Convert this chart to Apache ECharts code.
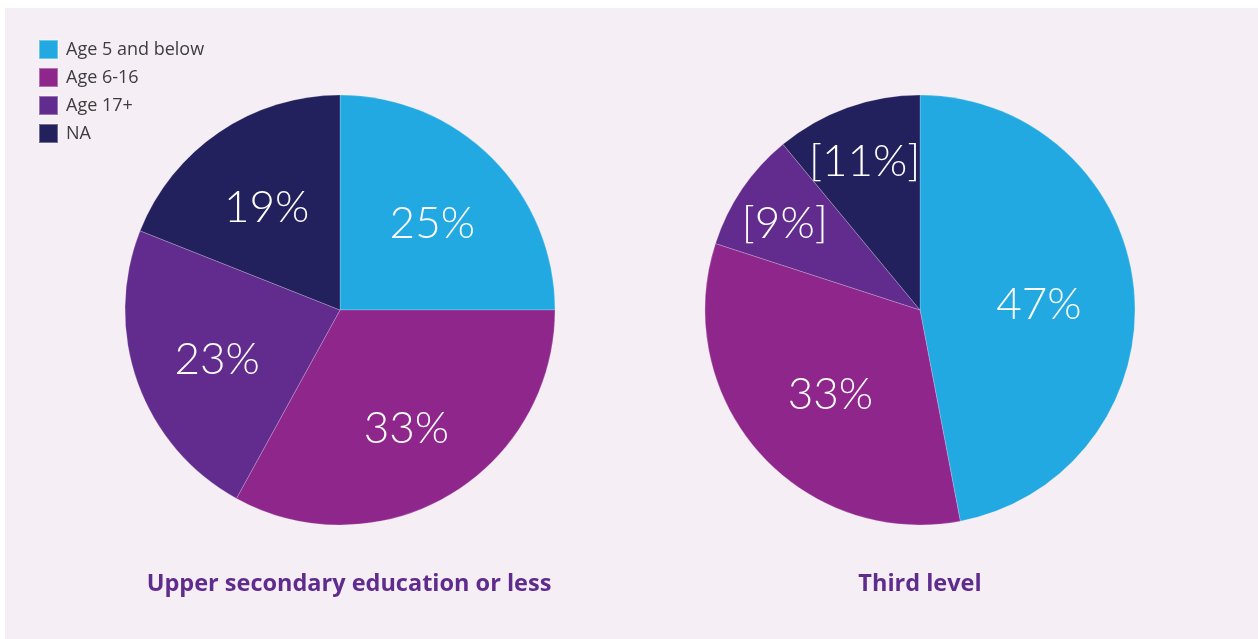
<!DOCTYPE html>
<html>
<head>
<meta charset="utf-8">
<script src="https://cdn.jsdelivr.net/npm/echarts@6/dist/echarts.min.js"></script>
<style>
  html, body { margin: 0; padding: 0; background: #ffffff; }
  #chart { width: 1258px; height: 639px; }
</style>
</head>
<body>
<div id="chart"></div>
<script>
// Age groups and their shares (%) per education level
const categories = ['Age 5 and below', 'Age 6-16', 'Age 17+', 'NA'];
const upperSecondary = [25, 33, 23, 19];
const thirdLevel = [47, 33, 9, 11];
// Shares shown in brackets (small sample)
const upperSecondaryBracketed = [false, false, false, false];
const thirdLevelBracketed = [false, false, true, true];
const panelTitles = ['Upper secondary education or less', 'Third level'];

const colors = ['#23A9E1', '#8E268C', '#622C8E', '#23205E'];
const labelFont = 'Lato, "Open Sans", sans-serif';
const textFont = '"Open Sans", Lato, sans-serif';
const R = 215;

function toData(values) {
  return values.map((v, i) => ({ name: categories[i], value: v, itemStyle: { color: colors[i] } }));
}

// transparent twin pie that carries value labels; labels sit halfway between r0 and R
function labelPie(values, center, r0, bracketed, showWhen) {
  return {
    type: 'pie',
    center: center,
    radius: [r0, R],
    startAngle: 90,
    clockwise: true,
    animation: false,
    silent: true,
    labelLine: { show: false },
    emphasis: { disabled: true },
    data: values.map((v, i) => ({
      name: categories[i],
      value: v,
      itemStyle: { color: 'rgba(0,0,0,0)' },
      label: { show: bracketed[i] === showWhen }
    })),
    label: {
      position: 'inside',
      color: '#ffffff',
      fontFamily: labelFont,
      fontWeight: 300,
      fontSize: 44,
      offset: [0, 6],
      formatter: p => {
        const t = p.value + '%';
        return bracketed[p.dataIndex] ? '[' + t + ']' : t;
      }
    }
  };
}

function fillPie(values, center) {
  return {
    type: 'pie',
    center: center,
    radius: [0, R],
    startAngle: 90,
    clockwise: true,
    animation: false,
    data: toData(values),
    label: { show: false },
    labelLine: { show: false },
    emphasis: { disabled: true },
    itemStyle: { borderColor: 'rgba(255,255,255,0.35)', borderWidth: 0.6 }
  };
}

const chart = echarts.init(document.getElementById('chart'), null, { renderer: 'canvas' });

const titleStyle = { color: '#5F2C8E', fontFamily: textFont, fontWeight: 'bold', fontSize: 23.5 };

chart.setOption({
  backgroundColor: '#ffffff',
  animation: false,
  graphic: [{
    type: 'rect',
    z: -10,
    shape: { x: 5, y: 8, width: 1253, height: 631 },
    style: { fill: '#F5EEF5' }
  }],
  title: [
    { text: panelTitles[0], left: 349, top: 572, textAlign: 'center', padding: 0, textStyle: titleStyle },
    { text: panelTitles[1], left: 920, top: 572, textAlign: 'center', padding: 0, textStyle: titleStyle }
  ],
  legend: {
    orient: 'vertical',
    left: 38,
    top: 39,
    padding: 0,
    icon: 'rect',
    itemWidth: 19,
    itemHeight: 19,
    itemGap: 7,
    selectedMode: false,
    textStyle: { color: '#3d3d3d', fontFamily: textFont, fontSize: 18, padding: [0, 0, 0, 3] },
    data: categories.map((c, i) => ({ name: c, itemStyle: { color: colors[i] } }))
  },
  series: [
    fillPie(upperSecondary, [340, 310]),
    labelPie(upperSecondary, [340, 310], 40, upperSecondaryBracketed, false),
    fillPie(thirdLevel, [920, 310]),
    labelPie(thirdLevel, [920, 310], 18, thirdLevelBracketed, false),
    labelPie(thirdLevel, [920, 310], 106, thirdLevelBracketed, true)
  ]
});
</script>
</body>
</html>
